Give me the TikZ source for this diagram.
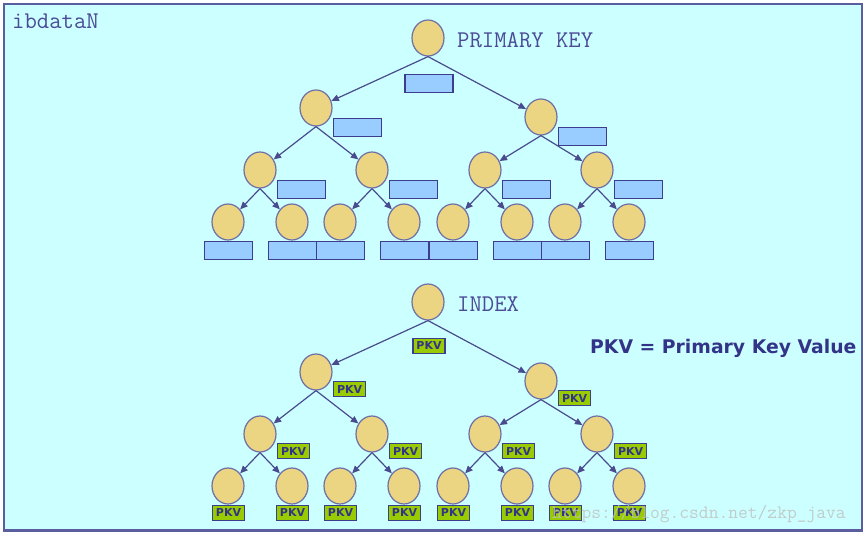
\documentclass[tikz,border=0pt]{standalone}
\usepackage{fontspec}
\setmainfont{Liberation Serif}
\newfontfamily\sansf{DejaVu Sans}
\usetikzlibrary{arrows.meta,shapes.geometric}
\definecolor{bgc}{HTML}{CCFFFF}
\definecolor{framec}{HTML}{5B5E9E}
\definecolor{knfill}{HTML}{ECD582}
\definecolor{knline}{HTML}{6E6FA6}
\definecolor{boxfill}{HTML}{99CCFF}
\definecolor{boxline}{HTML}{3D3D8D}
\definecolor{pkvfill}{HTML}{99CC00}
\definecolor{txtc}{HTML}{4B4B96}
\definecolor{pkvtxt}{HTML}{333388}
\definecolor{arrc}{HTML}{4A4A8F}
\begin{document}
\begin{tikzpicture}[x=1pt,y=-1pt,
  kn/.style={ellipse,draw=knline,fill=knfill,line width=1.2pt,minimum width=32pt,minimum height=36pt,inner sep=0pt},
  keybox/.style={rectangle,draw=boxline,fill=boxfill,line width=1.1pt,minimum width=48pt,minimum height=18pt,inner sep=0pt},
  pkvbox/.style={rectangle,draw=boxline,fill=pkvfill,line width=1.1pt,minimum width=32pt,minimum height=15pt,inner sep=0pt,
     font=\sansf\bfseries\fontsize{11}{11}\selectfont,text=pkvtxt},
  arr/.style={draw=arrc,line width=1.2pt,-{Triangle[length=7.5pt,width=6.5pt]}},
  title/.style={font=\ttfamily\fontsize{24}{24}\selectfont,text=txtc,inner sep=0pt,anchor=base west}]
\useasboundingbox (0,0) rectangle (864,533);
\fill[white] (0,0) rectangle (864,533);
\node[draw=framec,fill=bgc,line width=1.5pt,minimum width=858pt,minimum height=526pt,inner sep=0pt,anchor=north west] (frame) at (3,3) {};
\draw[framec,line width=2.5pt] ([xshift=-0.5pt]frame.north east) -- ([xshift=-0.5pt]frame.south east) -- ([xshift=-0.5pt]frame.south west);

% tree nodes
\foreach \n/\x/\y in {r/428/38, a/316/108, b/541/117, aa/260/170, ab/372/170, ba/485/170, bb/597/170,
   aaa/228/222, aab/292/222, aba/340/222, abb/404/222, baa/453/222, bab/517/222, bba/565/222, bbb/629/222}{
  \node[kn] (T\n) at (\x,\y) {};
  \node[kn] (B\n) at (\x,\y+264) {};
}
% boxes of the primary key tree
\node[keybox,anchor=north] (TBr) at ([yshift=-17pt,xshift=1pt]Tr.south) {};
\foreach \n in {a,b,aa,ab,ba,bb}
  \node[keybox,anchor=north west] (TB\n) at ([yshift=-10pt]T\n.east) {};
\foreach \n in {aaa,aab,aba,abb,baa,bab,bba,bbb}
  \node[keybox,anchor=north] (TB\n) at ([xshift=0.5pt]T\n.south) {};
% boxes of the index tree
\node[pkvbox,anchor=north] (BBr) at ([yshift=-17pt,xshift=1pt]Br.south) {PKV};
\foreach \n in {a,b,aa,ab,ba,bb}
  \node[pkvbox,anchor=north west] (BB\n) at ([yshift=-9pt,xshift=0.5pt]B\n.east) {PKV};
\foreach \n in {aaa,aab,aba,abb,baa,bab,bba,bbb}
  \node[pkvbox,anchor=north] (BB\n) at ([xshift=0.5pt]B\n.south) {PKV};

% connectors
\foreach \p/\c in {r/a, r/b, a/aa, a/ab, b/ba, b/bb, aa/aaa, aa/aab, ab/aba, ab/abb, ba/baa, ba/bab, bb/bba, bb/bbb}{
  \draw[arr] (T\p.south) -- (T\c);
  \draw[arr] (B\p.south) -- (B\c);
}

% texts
\node[title] (lbl1) at (12,28) {ibdataN};
\node[title] (lbl2) at (457,47) {PRIMARY KEY};
\node[title] (lbl3) at (457,311) {INDEX};
\node[font=\sansf\bfseries\fontsize{18.8}{18.8}\selectfont,text=pkvtxt,inner sep=0pt,anchor=base west] (legend) at (590,353) {PKV = Primary Key Value};
\node[font=\ttfamily\fontsize{19}{19}\selectfont,text=gray!50,opacity=0.8,inner sep=0pt,anchor=base west] (wm) at (552,518) {https://blog.csdn.net/zkp\_java};
\end{tikzpicture}
\end{document}
